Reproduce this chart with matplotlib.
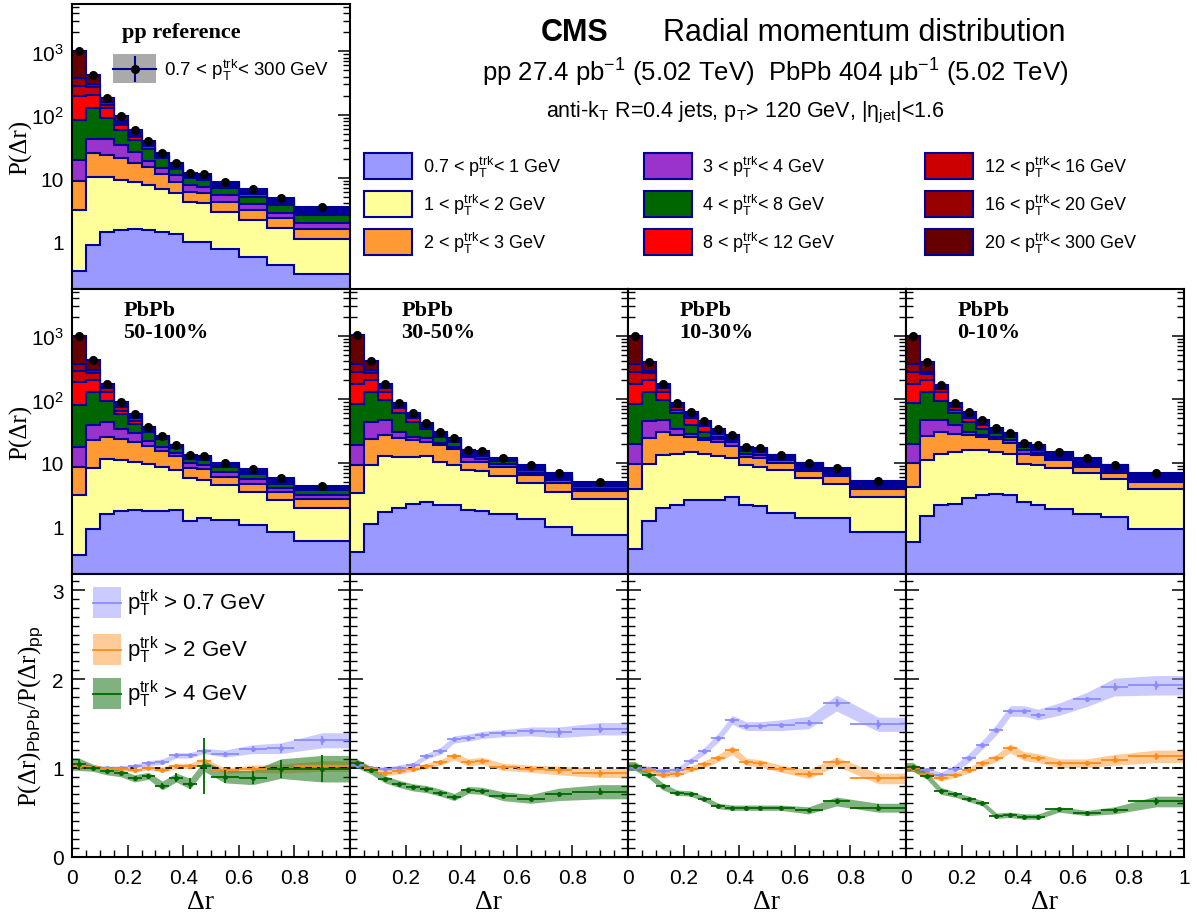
import numpy as np
import matplotlib
matplotlib.use("Agg")
import matplotlib.pyplot as plt
from matplotlib.patches import Rectangle
from matplotlib.lines import Line2D
from matplotlib.ticker import FixedLocator, FixedFormatter, MultipleLocator, NullFormatter

plt.rcParams['font.family'] = ['Liberation Sans', 'DejaVu Sans']
plt.rcParams['mathtext.fontset'] = 'custom'
plt.rcParams['mathtext.rm'] = 'Liberation Sans'
plt.rcParams['mathtext.it'] = 'Liberation Sans:italic'
plt.rcParams['mathtext.bf'] = 'Liberation Sans:bold'

# ------------------------------------------------------------------ data
dr_edges = [0.0, 0.05, 0.10, 0.15, 0.20, 0.25, 0.30, 0.35, 0.40, 0.45, 0.50, 0.60, 0.70, 0.80, 1.00]

PT = r"$\mathrm{p}_{\mathrm{T}}^{\mathrm{trk}}$"
trk_bin_labels = [f"0.7 < {PT}< 1 GeV", f"1 < {PT}< 2 GeV", f"2 < {PT}< 3 GeV",
                  f"3 < {PT}< 4 GeV", f"4 < {PT}< 8 GeV", f"8 < {PT}< 12 GeV",
                  f"12 < {PT}< 16 GeV", f"16 < {PT}< 20 GeV", f"20 < {PT}< 300 GeV"]
trk_bin_colors = ['#9999ff', '#ffff99', '#ff9933', '#9933cc', '#006600',
                  '#ff0000', '#cc0000', '#990000', '#660000']

# cumulative (stacked) tops of P(dr), one row per track-pT bin, bottom to top
pp_stack_tops = [
    [0.34, 0.88, 1.40, 1.50, 1.55, 1.50, 1.39, 1.32, 0.96, 0.96, 0.75, 0.57, 0.43, 0.30],
    [3.1, 10.5, 10.2, 9.4, 8.6, 7.8, 6.8, 5.9, 4.2, 4.0, 2.95, 2.17, 1.6, 1.09],
    [9.0, 24.5, 23.0, 20.5, 17.3, 14.9, 11.5, 8.6, 6.1, 5.9, 4.24, 3.1, 2.31, 1.57],
    [19, 42, 41, 33.5, 25.7, 18.8, 14.5, 11.0, 7.8, 7.1, 5.3, 3.85, 2.77, 1.92],
    [83, 127, 89, 58, 40, 28.7, 20.5, 14.0, 9.9, 9.3, 7.05, 5.1, 3.75, 2.6],
    [200, 205, 127, 68, 44, 32, 22, 15.0, 10.6, 10.0, 7.5, 5.5, 4.0, 2.8],
    [280, 270, 144, 74, 48, 34, 23, 15.8, 11.2, 10.6, 8.0, 5.8, 4.3, 3.0],
    [380, 305, 158, 80, 52, 35.5, 24, 16.6, 11.7, 11.1, 8.4, 6.2, 4.55, 3.2],
    [1000, 420, 183, 94, 58, 38, 25, 17.5, 12.2, 11.6, 8.8, 6.6, 4.8, 3.44],
]
pbpb_50_100_stack_tops = [
    [0.35, 0.89, 1.58, 1.75, 1.81, 1.77, 1.75, 1.79, 1.2, 1.35, 1.24, 1.04, 0.81, 0.58],
    [3.1, 8.4, 11.7, 11.0, 10.4, 9.5, 8.65, 7.7, 5.67, 5.3, 4.45, 3.48, 2.57, 1.97],
    [8.6, 22.8, 25.7, 23.6, 21.5, 18.3, 15.5, 12.9, 8.15, 7.9, 5.9, 4.6, 3.48, 2.67],
    [17.8, 39.3, 43.3, 34, 29, 22, 17.5, 14.1, 9.8, 9.2, 7.2, 5.46, 3.94, 3.09],
    [81, 129, 95, 59, 40.8, 30.8, 23.6, 16.9, 11.7, 11.0, 8.45, 6.55, 4.72, 3.7],
    [190, 202, 132, 66, 45, 33, 24.5, 17.5, 12.1, 11.4, 8.75, 6.8, 4.9, 3.85],
    [280, 258, 149, 75, 50, 34.5, 25.2, 18.0, 12.5, 11.8, 9.0, 7.1, 5.1, 4.0],
    [364, 290, 158, 82, 54, 35.5, 25.6, 18.5, 12.8, 12.2, 9.3, 7.4, 5.35, 4.15],
    [1000, 417, 178, 92, 58, 37, 26.3, 19.1, 13.2, 13.0, 9.8, 7.9, 5.67, 4.33],
]
pbpb_30_50_stack_tops = [
    [0.39, 1.1, 1.68, 1.95, 2.28, 2.42, 2.15, 2.15, 1.83, 1.72, 1.58, 1.32, 0.98, 0.74],
    [3.3, 9.2, 12.7, 12.4, 12.4, 12.7, 10.4, 9.4, 7.65, 7.4, 6.2, 4.83, 3.48, 2.73],
    [9.2, 23.6, 27.4, 24.3, 22.8, 21.5, 19, 16.8, 10.4, 10.4, 8.65, 6.4, 4.83, 3.57],
    [19, 44.5, 47, 30.9, 25.7, 24.3, 20.2, 17.9, 12.4, 11.7, 9.7, 6.95, 5.3, 3.93],
    [85, 129, 97, 60, 44.5, 34, 25.7, 21.5, 13.5, 12.9, 10.6, 7.65, 5.8, 4.28],
    [173, 202, 132, 72, 50, 36.5, 27.5, 22.5, 14.5, 13.8, 11.0, 8.2, 6.15, 4.5],
    [275, 258, 150, 80, 54, 38.5, 28.8, 23.2, 15.1, 14.5, 11.3, 8.6, 6.45, 4.7],
    [364, 290, 160, 84, 57, 40, 30, 23.8, 15.5, 15.0, 11.5, 8.9, 6.7, 4.85],
    [1050, 400, 173, 89, 60, 41.8, 30.9, 24.3, 16.0, 15.6, 11.8, 9.2, 6.95, 5.0],
]
pbpb_10_30_stack_tops = [
    [0.44, 1.21, 1.97, 2.2, 2.57, 2.64, 2.64, 2.9, 2.15, 2.1, 1.64, 1.37, 1.35, 0.81],
    [3.84, 9.7, 13.5, 14.0, 14.9, 14.0, 12.9, 12.0, 9.2, 8.65, 7.65, 5.67, 4.72, 2.9],
    [9.7, 24.7, 30.9, 27.4, 25.7, 22.8, 21, 18.6, 12.4, 12.0, 10.1, 7.4, 6.2, 3.93],
    [19.5, 45.6, 48, 34, 28, 24.7, 23.6, 21, 14.0, 13.2, 11.0, 8.1, 6.55, 4.2],
    [85, 129, 97, 60, 40, 30.9, 25.7, 22.8, 15.2, 14.9, 11.7, 8.65, 7.0, 4.55],
    [173, 202, 132, 67.5, 50, 38, 28.5, 24.5, 16.2, 15.7, 12.4, 9.2, 7.5, 4.75],
    [268, 258, 150, 76, 55, 41, 30.5, 25.5, 16.8, 16.3, 12.9, 9.6, 7.8, 4.9],
    [356, 280, 160, 82, 59, 43.5, 32, 26.5, 17.3, 16.8, 13.2, 9.9, 8.05, 5.0],
    [1000, 390, 173, 89, 63, 45.6, 33.7, 27.4, 17.9, 17.2, 13.5, 10.1, 8.3, 5.13],
]
pbpb_0_10_stack_tops = [
    [0.57, 1.46, 2.15, 2.28, 2.84, 3.09, 3.2, 3.09, 2.37, 2.15, 1.85, 1.58, 1.4, 0.92],
    [4.2, 11.0, 14.0, 14.9, 16.2, 15.8, 14.9, 14.0, 9.7, 9.4, 8.3, 6.8, 5.5, 3.84],
    [10.1, 26.7, 30.9, 28.4, 27.4, 25.1, 23.4, 20.2, 14.0, 13.2, 11.0, 8.65, 7.0, 4.9],
    [19.5, 47, 47, 39.5, 30.9, 27.4, 25.7, 22.8, 15.8, 14.5, 12.0, 9.2, 7.4, 5.13],
    [87, 129, 94, 60, 43.3, 34, 29, 25.7, 17.5, 15.8, 12.4, 9.7, 7.9, 5.5],
    [178, 202, 132, 67.5, 50, 39, 31, 27.0, 18.6, 17.0, 13.2, 10.4, 8.4, 5.9],
    [268, 247, 148, 76, 55, 42, 32.5, 28.0, 19.4, 17.8, 13.8, 11.0, 8.8, 6.2],
    [356, 275, 158, 83, 59, 44.5, 33.7, 28.8, 20.1, 18.4, 14.4, 11.5, 9.1, 6.5],
    [1000, 382, 168, 89, 64, 47, 34.8, 29.7, 20.8, 19.0, 14.9, 12.0, 9.4, 6.8],
]

centrality_labels = ["50-100%", "30-50%", "10-30%", "0-10%"]

# PbPb/pp ratios for pT > 0.7, > 2, > 4 GeV
ratio_pt07_50_100 = [1.03, 1.01, 1.0, 1.0, 1.02, 1.05, 1.07, 1.14, 1.14, 1.19, 1.16, 1.21, 1.22, 1.31]
ratio_pt2_50_100 = [1.02, 1.01, 0.99, 0.99, 0.97, 1.0, 0.98, 1.02, 1.02, 1.08, 0.97, 0.99, 0.99, 1.02]
ratio_pt4_50_100 = [1.04, 1.0, 0.96, 0.94, 0.88, 0.91, 0.8, 0.89, 0.82, 1.02, 0.9, 0.89, 0.99, 0.99]
ratio_pt07_30_50 = [1.03, 1.0, 0.99, 1.0, 1.03, 1.13, 1.19, 1.32, 1.34, 1.37, 1.39, 1.41, 1.4, 1.44]
ratio_pt2_30_50 = [1.05, 0.99, 0.94, 0.96, 0.99, 1.02, 1.06, 1.13, 1.06, 1.08, 1.01, 0.99, 0.97, 0.94]
ratio_pt4_30_50 = [1.05, 0.97, 0.87, 0.82, 0.78, 0.76, 0.72, 0.67, 0.75, 0.74, 0.68, 0.65, 0.7, 0.73]
ratio_pt07_10_30 = [1.0, 0.99, 0.96, 0.97, 1.08, 1.19, 1.34, 1.54, 1.47, 1.47, 1.48, 1.51, 1.73, 1.49]
ratio_pt2_10_30 = [1.02, 0.97, 0.92, 0.93, 0.99, 1.04, 1.11, 1.2, 1.07, 1.05, 0.99, 0.93, 1.07, 0.88]
ratio_pt4_10_30 = [1.02, 0.92, 0.79, 0.72, 0.71, 0.65, 0.57, 0.55, 0.55, 0.55, 0.55, 0.52, 0.62, 0.55]
ratio_pt07_0_10 = [1.0, 0.97, 0.92, 0.99, 1.11, 1.26, 1.43, 1.64, 1.64, 1.6, 1.66, 1.77, 1.91, 1.93]
ratio_pt2_0_10 = [1.0, 0.93, 0.88, 0.92, 0.97, 1.05, 1.11, 1.22, 1.13, 1.11, 1.05, 1.05, 1.09, 1.13]
ratio_pt4_0_10 = [1.01, 0.91, 0.74, 0.7, 0.65, 0.6, 0.46, 0.47, 0.45, 0.45, 0.53, 0.49, 0.52, 0.62]

# systematic (band half-widths)
sys_pt07_50_100 = [0.03, 0.02, 0.02, 0.02, 0.02, 0.03, 0.03, 0.03, 0.03, 0.03, 0.04, 0.05, 0.06, 0.085]
sys_pt2_50_100 = [0.03, 0.02, 0.02, 0.02, 0.02, 0.02, 0.03, 0.03, 0.03, 0.03, 0.03, 0.04, 0.05, 0.06]
sys_pt4_50_100 = [0.07, 0.04, 0.04, 0.04, 0.04, 0.04, 0.05, 0.05, 0.06, 0.06, 0.07, 0.08, 0.11, 0.15]
sys_pt07_30_50 = [0.03, 0.02, 0.02, 0.03, 0.03, 0.03, 0.04, 0.04, 0.04, 0.04, 0.04, 0.05, 0.06, 0.07]
sys_pt2_30_50 = [0.04, 0.03, 0.03, 0.03, 0.03, 0.03, 0.03, 0.04, 0.04, 0.04, 0.04, 0.04, 0.05, 0.05]
sys_pt4_30_50 = [0.05, 0.04, 0.04, 0.04, 0.04, 0.04, 0.04, 0.04, 0.04, 0.04, 0.05, 0.05, 0.07, 0.08]
sys_pt07_10_30 = [0.03, 0.03, 0.03, 0.03, 0.03, 0.04, 0.05, 0.05, 0.05, 0.05, 0.06, 0.07, 0.09, 0.08]
sys_pt2_10_30 = [0.04, 0.03, 0.03, 0.03, 0.03, 0.04, 0.04, 0.05, 0.04, 0.04, 0.04, 0.05, 0.05, 0.06]
sys_pt4_10_30 = [0.05, 0.04, 0.04, 0.03, 0.03, 0.03, 0.03, 0.03, 0.03, 0.03, 0.03, 0.04, 0.05, 0.05]
sys_pt07_0_10 = [0.03, 0.03, 0.03, 0.04, 0.05, 0.05, 0.06, 0.06, 0.06, 0.06, 0.07, 0.08, 0.10, 0.11]
sys_pt2_0_10 = [0.04, 0.03, 0.03, 0.03, 0.03, 0.04, 0.04, 0.05, 0.05, 0.05, 0.05, 0.05, 0.06, 0.07]
sys_pt4_0_10 = [0.05, 0.04, 0.04, 0.03, 0.03, 0.03, 0.03, 0.03, 0.03, 0.03, 0.03, 0.03, 0.04, 0.06]

# statistical errors
stat_pt07 = [0.01, 0.01, 0.01, 0.01, 0.01, 0.01, 0.01, 0.01, 0.01, 0.02, 0.02, 0.03, 0.05, 0.05]
stat_pt2 = [0.01, 0.01, 0.01, 0.01, 0.01, 0.01, 0.01, 0.01, 0.02, 0.02, 0.02, 0.03, 0.04, 0.04]
stat_pt4 = [0.01, 0.01, 0.01, 0.01, 0.01, 0.01, 0.01, 0.01, 0.02, 0.02, 0.02, 0.02, 0.03, 0.04]
stat_pt4_50_100 = [0.06, 0.02, 0.01, 0.01, 0.01, 0.02, 0.03, 0.05, 0.06, 0.32, 0.07, 0.07, 0.1, 0.15]

ratio_labels = [f"{PT} > 0.7 GeV", f"{PT} > 2 GeV", f"{PT} > 4 GeV"]
ratio_line_colors = ['#8c8cff', '#ff8c1a', '#006600']
ratio_band_colors = ['#9999ff', '#ff9933', '#006600']

# ------------------------------------------------------------------ figure
W, H = 1197, 920
fig = plt.figure(figsize=(W / 100, H / 100), dpi=100)
NAVY = '#000099'
SERIF = ['Liberation Serif', 'DejaVu Serif']


def fx(px):
    return px / W


def fy(py):
    return 1 - py / H


col_left = [72, 350, 628, 906]
col_w = 278
edges = np.array(dr_edges)
centers = 0.5 * (edges[1:] + edges[:-1])
halfw = 0.5 * (edges[1:] - edges[:-1])


def style(ax):
    ax.tick_params(which='both', direction='in', right=True, top=False, labelsize=15, pad=6)
    ax.tick_params(which='major', length=9, width=1.1)
    ax.tick_params(which='minor', length=5, width=1.0)
    for s in ax.spines.values():
        s.set_linewidth(1.5)
        s.set_zorder(20)
    ax.set_xlim(0, 1)
    ax.xaxis.set_major_locator(MultipleLocator(0.2))
    ax.xaxis.set_minor_locator(MultipleLocator(0.05))


def log_axis(ax, labels):
    ax.set_yscale('log')
    ax.set_ylim(0.18, 5600)
    ax.yaxis.set_major_locator(FixedLocator([1, 10, 100, 1000]))
    minors = [m * 10.0 ** e for e in range(-1, 4) for m in range(2, 10)]
    ax.yaxis.set_minor_locator(FixedLocator(minors))
    ax.yaxis.set_minor_formatter(NullFormatter())
    if labels:
        ax.yaxis.set_major_formatter(FixedFormatter(["1", "10", "$10^{2}$", "$10^{3}$"]))
    else:
        ax.yaxis.set_major_formatter(NullFormatter())
    ax.xaxis.set_major_formatter(NullFormatter())


def draw_stack(ax, tops):
    for k in range(len(tops) - 1, -1, -1):
        ax.stairs(tops[k], edges, baseline=1e-3, fill=True, color=trk_bin_colors[k], lw=0, zorder=2)
        ax.stairs(tops[k], edges, baseline=None, fill=False, color=NAVY, lw=1.5, zorder=2)
    ax.plot(centers, tops[-1], 'o', color='black', ms=5.5, zorder=5)


# pp reference panel
ax_pp = fig.add_axes([fx(72), fy(289.5), col_w / W, 284.5 / H])
style(ax_pp)
log_axis(ax_pp, True)
draw_stack(ax_pp, pp_stack_tops)
ax_pp.text(0.18, 0.902, "pp reference", transform=ax_pp.transAxes, fontsize=16,
           fontweight='bold', family=SERIF, va='center', ha='left')
# pp legend entry
ax_pp.add_patch(Rectangle((fx(113), fy(84)), 43 / W, 29 / H, transform=fig.transFigure,
                          facecolor='#aaaaaa', edgecolor='none', zorder=30))
fig.add_artist(Line2D([fx(113), fx(156)], [fy(69.5), fy(69.5)], color=NAVY, lw=1.5, zorder=31))
fig.add_artist(Line2D([fx(134.5), fx(134.5)], [fy(58), fy(82)], color=NAVY, lw=1.5, zorder=31))
fig.add_artist(Line2D([fx(134.5)], [fy(69.5)], marker='o', color='black', ms=5.5, zorder=32))
fig.text(fx(164), fy(70), f"0.7 < {PT}< 300 GeV", fontsize=13.5, va='center', ha='left')

# PbPb panels
pbpb_stacks = [pbpb_50_100_stack_tops, pbpb_30_50_stack_tops, pbpb_10_30_stack_tops, pbpb_0_10_stack_tops]
ratio_sets = [
    (ratio_pt07_50_100, ratio_pt2_50_100, ratio_pt4_50_100),
    (ratio_pt07_30_50, ratio_pt2_30_50, ratio_pt4_30_50),
    (ratio_pt07_10_30, ratio_pt2_10_30, ratio_pt4_10_30),
    (ratio_pt07_0_10, ratio_pt2_0_10, ratio_pt4_0_10),
]
sys_sets = [
    (sys_pt07_50_100, sys_pt2_50_100, sys_pt4_50_100),
    (sys_pt07_30_50, sys_pt2_30_50, sys_pt4_30_50),
    (sys_pt07_10_30, sys_pt2_10_30, sys_pt4_10_30),
    (sys_pt07_0_10, sys_pt2_0_10, sys_pt4_0_10),
]
stat_sets = [
    (stat_pt07, stat_pt2, stat_pt4_50_100),
    (stat_pt07, stat_pt2, stat_pt4),
    (stat_pt07, stat_pt2, stat_pt4),
    (stat_pt07, stat_pt2, stat_pt4),
]

for i in range(4):
    ax = fig.add_axes([fx(col_left[i]), fy(574.5), col_w / W, 285 / H])
    style(ax)
    log_axis(ax, i == 0)
    draw_stack(ax, pbpb_stacks[i])
    ax.text(0.185, 0.926, "PbPb", transform=ax.transAxes, fontsize=16, fontweight='bold',
            family=SERIF, va='center', ha='left')
    ax.text(0.185, 0.849, centrality_labels[i], transform=ax.transAxes, fontsize=16,
            fontweight='bold', family=SERIF, va='center', ha='left')

    axr = fig.add_axes([fx(col_left[i]), fy(857.5), col_w / W, 283 / H])
    style(axr)
    axr.set_ylim(0, 3.19)
    axr.yaxis.set_major_locator(FixedLocator([0, 1, 2, 3]))
    axr.yaxis.set_minor_locator(MultipleLocator(0.1))
    axr.xaxis.set_major_locator(FixedLocator([0, 0.2, 0.4, 0.6, 0.8, 1.0]))
    if i == 3:
        axr.xaxis.set_major_formatter(FixedFormatter(["0", "0.2", "0.4", "0.6", "0.8", "1"]))
    else:
        axr.xaxis.set_major_formatter(FixedFormatter(["0", "0.2", "0.4", "0.6", "0.8", ""]))
    if i != 0:
        axr.yaxis.set_major_formatter(NullFormatter())
    axr.tick_params(axis='x', pad=8)

    xb = np.concatenate([[0.0], centers, [1.0]])
    for s in range(3):
        vals = np.array(ratio_sets[i][s])
        sy = np.array(sys_sets[i][s])
        lo = np.concatenate([[vals[0] - sy[0]], vals - sy, [vals[-1] - sy[-1]]])
        hi = np.concatenate([[vals[0] + sy[0]], vals + sy, [vals[-1] + sy[-1]]])
        axr.fill_between(xb, lo, hi, color=ratio_band_colors[s], alpha=0.5, lw=0, zorder=2 + s)
    axr.plot([0, 1], [1, 1], color='black', ls=(0, (4, 3)), lw=1.2, zorder=6)
    for s in range(3):
        axr.errorbar(centers, ratio_sets[i][s], xerr=halfw, yerr=stat_sets[i][s], fmt='o',
                     ms=2.5, color=ratio_line_colors[s], ecolor=ratio_line_colors[s],
                     elinewidth=1.3, capsize=0, zorder=7 + s)

    if i == 0:
        box_tops = [588, 635, 679]
        for s in range(3):
            fig.add_artist(Rectangle((fx(93), fy(box_tops[s] + 31)), 28 / W, 31 / H,
                                     transform=fig.transFigure, facecolor=ratio_band_colors[s],
                                     alpha=0.5, edgecolor='none'))
            fig.add_artist(Line2D([fx(93), fx(121)], [fy(box_tops[s] + 15.5)] * 2,
                                  color=ratio_line_colors[s], lw=1.3))
            fig.text(fx(127), fy(box_tops[s] + 15.5), ratio_labels[s], fontsize=16,
                     va='center', ha='left')

    dr_x = [200, 489, 767, 1045][i]
    fig.text(fx(dr_x), fy(903), "Δr", fontsize=20, family=SERIF, ha='center', va='center')

# y axis titles
fig.text(fx(21), fy(147), "P(Δr)", rotation=90, fontsize=18, family=SERIF, ha='center', va='center')
fig.text(fx(21), fy(432), "P(Δr)", rotation=90, fontsize=18, family=SERIF, ha='center', va='center')
fig.text(fx(31), fy(716), r"P(Δr)$_{\mathrm{PbPb}}$/P(Δr)$_{\mathrm{pp}}$", rotation=90,
         fontsize=18, family=SERIF, ha='center', va='center')

# header texts
fig.text(fx(541), fy(33), "CMS", fontsize=22, fontweight='bold', va='center', ha='left')
fig.text(fx(663), fy(33), "Radial momentum distribution", fontsize=22, va='center', ha='left')
fig.text(fx(775), fy(73), "pp 27.4 pb$^{-1}$ (5.02 TeV)  PbPb 404 μb$^{-1}$ (5.02 TeV)",
         fontsize=18.5, va='center', ha='center')
fig.text(fx(745), fy(113),
         r"anti-k$_{\mathrm{T}}$ R=0.4 jets, p$_{\mathrm{T}}$> 120 GeV, |η$_{\mathrm{jet}}$|<1.6",
         fontsize=15.5, va='center', ha='center')

# stacked legend
leg_box_x = [364, 644, 925]
leg_txt_x = [423, 702, 984]
leg_row_y = [167, 205, 243]
for k in range(9):
    c, r = k // 3, k % 3
    fig.add_artist(Rectangle((fx(leg_box_x[c]), fy(leg_row_y[r] + 13)), 48 / W, 26 / H,
                             transform=fig.transFigure, facecolor=trk_bin_colors[k],
                             edgecolor=NAVY, lw=1.5))
    fig.text(fx(leg_txt_x[c]), fy(leg_row_y[r]), trk_bin_labels[k], fontsize=13,
             va='center', ha='left')

fig.savefig("out.png", dpi=100)
